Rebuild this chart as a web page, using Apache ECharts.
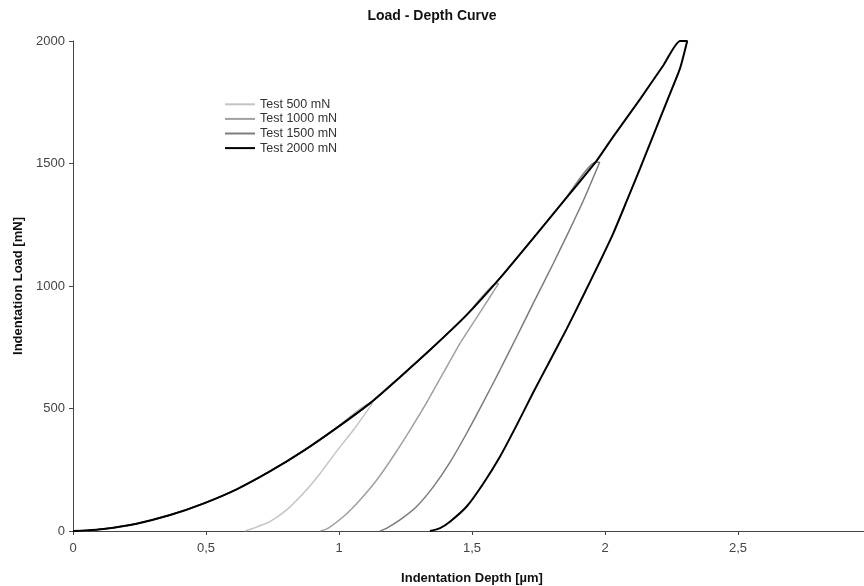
<!DOCTYPE html>
<html>
<head>
<meta charset="utf-8">
<script src="https://cdn.jsdelivr.net/npm/echarts@6/dist/echarts.min.js"></script>
<style>html,body{margin:0;padding:0;background:#fff}#c{width:864px;height:586px}</style>
</head>
<body>
<div id="c"></div>
<script>
// Shared loading curve (depth µm, load mN)
const loadDepth = [0, 0.05, 0.114, 0.239, 0.365, 0.49, 0.615, 0.74, 0.866, 0.99, 1.117, 1.229, 1.355, 1.48, 1.605, 1.743, 1.843, 1.969, 2.031, 2.132, 2.219, 2.282];
const loadForce = [0, 2, 8, 30, 65, 112, 170, 243, 327, 420, 522, 628, 752, 882, 1032, 1212, 1344, 1512, 1610, 1763, 1900, 2000];

const testNames = ['Test 500 mN', 'Test 1000 mN', 'Test 1500 mN', 'Test 2000 mN'];
const peakDepth = [1.117, 1.593, 1.965, 2.282];
const peakLoad = [520, 1010, 1505, 2000];
const holdDepth = [1.125, 1.600, 1.980, 2.309];

const unload500Depth = [1.054, 0.99, 0.929, 0.866, 0.803, 0.74, 0.678, 0.647];
const unload500Load = [412, 324, 235, 154, 86, 38, 11, 0];
const unload1000Depth = [1.568, 1.518, 1.455, 1.392, 1.33, 1.267, 1.204, 1.142, 1.079, 1.016, 0.96, 0.93];
const unload1000Load = [956, 872, 766, 645, 525, 412, 305, 208, 127, 58, 12, 0];
const unload1500Depth = [1.92, 1.862, 1.806, 1.73, 1.668, 1.605, 1.542, 1.48, 1.417, 1.355, 1.292, 1.229, 1.18, 1.154];
const unload1500Load = [1352, 1218, 1093, 929, 793, 657, 525, 399, 280, 181, 100, 45, 12, 0];
const unload2000Depth = [2.282, 2.232, 2.182, 2.132, 2.081, 2.031, 1.981, 1.918, 1.856, 1.793, 1.73, 1.668, 1.605, 1.542, 1.48, 1.417, 1.38, 1.342];
const unload2000Load = [1888, 1752, 1616, 1480, 1345, 1215, 1100, 960, 825, 695, 565, 432, 303, 193, 100, 38, 12, 0];

const unloadDepths = [unload500Depth, unload1000Depth, unload1500Depth, unload2000Depth];
const unloadLoads = [unload500Load, unload1000Load, unload1500Load, unload2000Load];

const xTicks = { min: 0, max: 3, interval: 0.5 };
const yTicks = { min: 0, max: 2000, interval: 500 };

const colors = ['#c4c4c4', '#a0a0a0', '#7c7c7c', '#000000'];
const widths = [1.5, 1.5, 1.5, 2];

function buildSeries(i) {
  const pts = [];
  for (let k = 0; k < loadDepth.length; k++) {
    if (loadDepth[k] < peakDepth[i]) pts.push([loadDepth[k], loadForce[k]]);
  }
  pts.push([peakDepth[i], peakLoad[i]]);
  pts.push([holdDepth[i], peakLoad[i]]);
  for (let k = 0; k < unloadDepths[i].length; k++) {
    pts.push([unloadDepths[i][k], unloadLoads[i][k]]);
  }
  return {
    name: testNames[i],
    type: 'line',
    data: pts,
    showSymbol: false,
    symbol: 'none',
    smooth: 0.2,
    lineStyle: { color: colors[i], width: widths[i] },
    itemStyle: { color: colors[i] },
    animation: false,
    z: 2 + i
  };
}

const narrow = "'Liberation Sans Narrow', 'Liberation Sans', Arial, sans-serif";
const regular = "'Liberation Sans', Arial, sans-serif";

const chart = echarts.init(document.getElementById('c'), null, { renderer: 'canvas' });
chart.setOption({
  backgroundColor: '#ffffff',
  animation: false,
  title: {
    text: 'Load - Depth Curve',
    left: 'center',
    top: 4,
    textStyle: { fontFamily: narrow, fontWeight: 'bold', fontSize: 14, color: '#111' }
  },
  legend: {
    data: testNames.map((n, i) => ({ name: n, icon: 'rect', itemStyle: { color: colors[i] } })),
    orient: 'vertical',
    left: 225,
    top: 97,
    padding: 0,
    itemWidth: 30,
    itemHeight: 2,
    itemGap: 0,
    textStyle: { fontFamily: regular, fontSize: 12.5, lineHeight: 14.6, color: '#333' },
    selectedMode: false
  },
  grid: { left: 73, right: -7, top: 41, bottom: 55, outerBoundsMode: 'none', containLabel: false },
  xAxis: {
    type: 'value',
    min: xTicks.min, max: xTicks.max, interval: xTicks.interval,
    name: 'Indentation Depth [µm]',
    nameLocation: 'middle',
    nameGap: 41,
    nameTextStyle: { fontFamily: narrow, fontWeight: 'bold', fontSize: 13, color: '#111' },
    axisLine: { show: true, lineStyle: { color: '#444', width: 1 } },
    axisTick: { show: true, length: 4, lineStyle: { color: '#444' } },
    axisLabel: {
      margin: 11,
      showMaxLabel: true,
      fontFamily: narrow, fontSize: 13, color: '#444',
      formatter: v => String(v).replace('.', ',')
    },
    splitLine: { show: false }
  },
  yAxis: {
    type: 'value',
    min: yTicks.min, max: yTicks.max, interval: yTicks.interval,
    name: 'Indentation Load [mN]',
    nameLocation: 'middle',
    nameGap: 39,
    nameTextStyle: { fontFamily: narrow, fontWeight: 'bold', fontSize: 13, color: '#111' },
    axisLine: { show: true, lineStyle: { color: '#444', width: 1 } },
    axisTick: { show: true, length: 4, lineStyle: { color: '#444' } },
    axisLabel: { margin: 8, fontFamily: narrow, fontSize: 13, color: '#444', formatter: v => String(v) },
    splitLine: { show: false }
  },
  series: [0, 1, 2, 3].map(buildSeries)
});
</script>
</body>
</html>
